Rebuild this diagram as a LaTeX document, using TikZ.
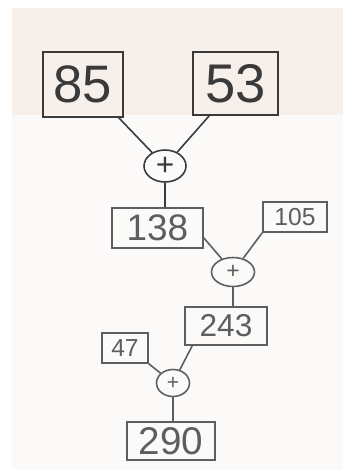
\documentclass[tikz,border=0pt]{standalone}
\usepackage{fontspec}
\setmainfont{Liberation Sans}
\usetikzlibrary{shapes.geometric,calc}
\definecolor{ink}{HTML}{3A3A3A}
\definecolor{inkl}{HTML}{5E5E5E}
\definecolor{band}{HTML}{F6EFEA}
\definecolor{paper}{HTML}{FBFAF9}
\tikzset{
  numbox/.style={draw=#1, line width=0.9pt, rectangle, inner sep=0pt, text=#1},
  opcirc/.style={draw=#1, line width=0.9pt, ellipse, inner sep=0pt, text=#1},
  link/.style={draw=#1, line width=0.9pt}
}
\begin{document}
\begin{tikzpicture}[x=0.02cm,y=-0.02cm]
\useasboundingbox (0,0) rectangle (343,474);
\fill[white] (0,0) rectangle (343,474);
\fill[paper] (12,8) rectangle (343,470);
\fill[band] (12,8) rectangle (343,115);
% nodes
\node[numbox=ink, minimum width=1.6cm, minimum height=1.3cm, font=\fontsize{30}{30}\selectfont] (n85) at (83,84.5) {85};
\node[numbox=ink, minimum width=1.7cm, minimum height=1.26cm, font=\fontsize{31}{31}\selectfont] (n53) at (235.5,83.5) {53};
\node[opcirc=ink, minimum width=0.84cm, minimum height=0.64cm, font=\fontsize{18}{18}\selectfont] (p1) at (165,166) {+};
\node[numbox=inkl, minimum width=1.82cm, minimum height=0.8cm, font=\fontsize{21}{21}\selectfont] (n138) at (157.5,228) {138};
\node[numbox=inkl, minimum width=1.28cm, minimum height=0.6cm, font=\fontsize{14}{14}\selectfont] (n105) at (295,217) {105};
\node[opcirc=inkl, minimum width=0.86cm, minimum height=0.58cm, font=\fontsize{13}{13}\selectfont] (p2) at (233,272) {+};
\node[numbox=inkl, minimum width=1.64cm, minimum height=0.76cm, font=\fontsize{18}{18}\selectfont] (n243) at (226,326) {243};
\node[numbox=inkl, minimum width=0.92cm, minimum height=0.6cm, font=\fontsize{14}{14}\selectfont] (n47) at (125,348) {47};
\node[opcirc=inkl, minimum width=0.66cm, minimum height=0.54cm, font=\fontsize{12}{12}\selectfont] (p3) at (173,383) {+};
\node[numbox=inkl, minimum width=1.76cm, minimum height=0.76cm, font=\fontsize{22}{22}\selectfont] (n290) at (171,441) {290};
% connectors
\draw[link=ink] ($(n85.south east)+(-5,0)$) -- (p1);
\draw[link=ink] ($(n53.south west)+(17,0)$) -- (p1);
\draw[link=ink] (p1) -- (p1 |- n138.north);
\draw[link=inkl] (n138.-12) -- (p2);
\draw[link=inkl] (n105.south west) -- (p2);
\draw[link=inkl] (p2) -- (p2 |- n243.north);
\draw[link=inkl] (n47.south east) -- (p3);
\draw[link=inkl] ($(n243.south west)+(8,0)$) -- (p3);
\draw[link=inkl] (p3) -- (p3 |- n290.north);
\end{tikzpicture}
\end{document}
